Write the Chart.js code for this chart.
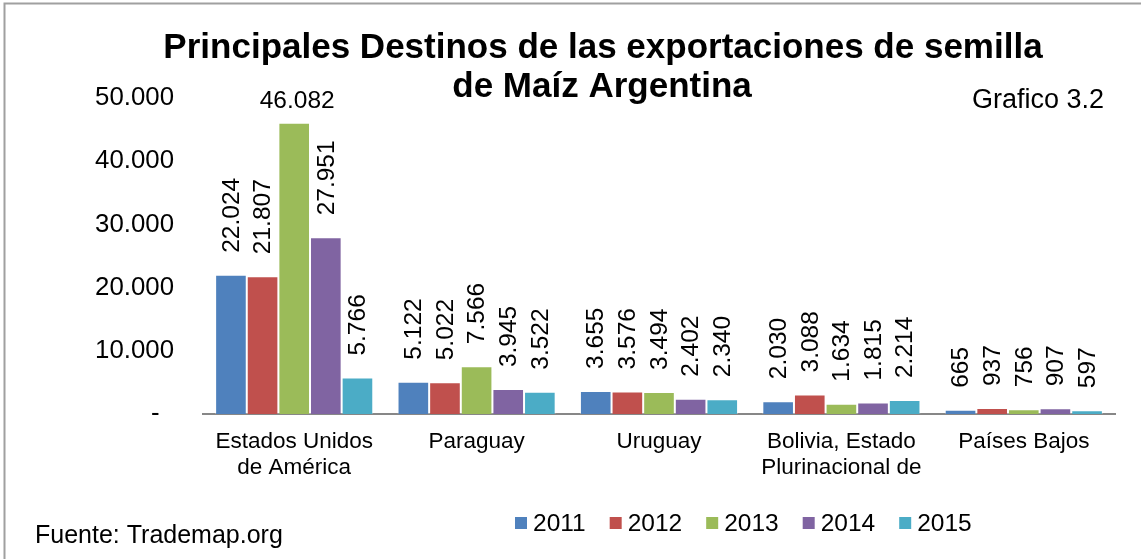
<!DOCTYPE html>
<html>
<head>
<meta charset="utf-8">
<script src="https://cdn.jsdelivr.net/npm/chart.js@4/dist/chart.umd.min.js"></script>
<style>
  html, body { margin: 0; padding: 0; background: #ffffff; }
  #wrap { position: relative; width: 1141px; height: 559px; }
</style>
</head>
<body>
<div id="wrap"><canvas id="c" width="1141" height="559"></canvas></div>
<script>
const categories = [
  ["Estados Unidos", "de América"],
  "Paraguay",
  "Uruguay",
  ["Bolivia, Estado", "Plurinacional de"],
  "Países Bajos"
];
const years = ["2011", "2012", "2013", "2014", "2015"];
const v2011 = [22024, 5122, 3655, 2030, 665];
const v2012 = [21807, 5022, 3576, 3088, 937];
const v2013 = [46082, 7566, 3494, 1634, 756];
const v2014 = [27951, 3945, 2402, 1815, 907];
const v2015 = [5766, 3522, 2340, 2214, 597];
const colors = ["#4F81BD", "#C0504D", "#9BBB59", "#8064A2", "#4BACC6"];
const yTicks = [0, 10000, 20000, 30000, 40000, 50000];
const titleLines = ["Principales Destinos de las exportaciones de semilla", "de Maíz Argentina"];
const noteText = "Grafico 3.2";
const sourceText = "Fuente: Trademap.org";

const FONT = "'Liberation Sans', Arial, sans-serif";

function fmt(v) {
  const s = Math.round(v).toString();
  return s.replace(/\B(?=(\d{3})+(?!\d))/g, ".");
}

const series = [v2011, v2012, v2013, v2014, v2015];

const decorPlugin = {
  id: 'decor',
  beforeDraw(chart) {
    const ctx = chart.ctx;
    ctx.save();
    ctx.strokeStyle = '#a0a0a0';
    ctx.lineWidth = 2;
    ctx.beginPath();
    ctx.moveTo(4.5, 560);
    ctx.lineTo(4.5, 3.5);
    ctx.lineTo(1142, 3.5);
    ctx.stroke();
    ctx.restore();
  },
  afterDraw(chart) {
    const ctx = chart.ctx;
    ctx.save();
    ctx.fillStyle = '#000';
    // Title
    ctx.font = "bold 35px " + FONT;
    ctx.textAlign = 'center';
    ctx.textBaseline = 'alphabetic';
    ctx.fillText(titleLines[0], 603, 58);
    ctx.fillText(titleLines[1], 602, 97);
    // Note
    ctx.font = "27px " + FONT;
    ctx.textAlign = 'right';
    ctx.fillText(noteText, 1104, 108);
    // Source
    ctx.font = "25px " + FONT;
    ctx.textAlign = 'left';
    ctx.fillText(sourceText, 35, 543);
    // Legend
    ctx.font = "24.5px " + FONT;
    ctx.textBaseline = 'middle';
    let x = 515;
    const yMid = 523;
    chart.data.datasets.forEach((ds) => {
      ctx.fillStyle = ds.backgroundColor;
      ctx.fillRect(x, yMid - 6, 12, 12);
      ctx.fillStyle = '#000';
      ctx.fillText(ds.label, x + 18, yMid + 1);
      x += 18 + ctx.measureText(ds.label).width + 24;
    });
    // Data labels
    ctx.font = "24.5px " + FONT;
    const top = chart.chartArea.top;
    chart.data.datasets.forEach((ds, di) => {
      const meta = chart.getDatasetMeta(di);
      meta.data.forEach((bar, i) => {
        const txt = fmt(ds.data[i]);
        const w = ctx.measureText(txt).width;
        ctx.fillStyle = '#000';
        if (bar.y - 22 - w < top - 20) {
          ctx.textAlign = 'center';
          ctx.textBaseline = 'alphabetic';
          ctx.fillText(txt, bar.x + 3, bar.y - 15);
        } else {
          ctx.save();
          ctx.translate(bar.x + 1, bar.y - 22);
          ctx.rotate(-Math.PI / 2);
          ctx.textAlign = 'left';
          ctx.textBaseline = 'middle';
          ctx.fillText(txt, 0, 0);
          ctx.restore();
        }
      });
    });
    ctx.restore();
  }
};

new Chart(document.getElementById('c'), {
  type: 'bar',
  data: {
    labels: categories,
    datasets: years.map((y, k) => ({
      label: y,
      data: series[k],
      backgroundColor: colors[k],
      borderColor: 'rgba(255,255,255,0.35)',
      borderWidth: 1,
      categoryPercentage: 0.867,
      barPercentage: 1.0
    }))
  },
  options: {
    responsive: false,
    animation: false,
    devicePixelRatio: 1,
    layout: { padding: { left: 0, right: 26, top: 98, bottom: 0 } },
    plugins: {
      legend: { display: false },
      title: { display: false },
      tooltip: { enabled: false }
    },
    scales: {
      x: {
        grid: { display: false, drawTicks: false },
        border: { display: true, color: '#878787', width: 2 },
        ticks: {
          color: '#000',
          font: { family: FONT, size: 22.5, lineHeight: 1.16 },
          padding: 15,
          maxRotation: 0,
          autoSkip: false
        },
        afterFit(scale) { scale.height = 145; }
      },
      y: {
        min: 0,
        max: 50000,
        grid: { display: false, drawTicks: false },
        border: { display: false },
        afterBuildTicks(scale) { scale.ticks = yTicks.map(v => ({ value: v })); },
        ticks: {
          color: '#000',
          font: { family: FONT, size: 25.8 },
          padding: 29,
          callback: (v) => v === 0 ? '-  ' : fmt(v)
        },
        afterFit(scale) { scale.width = 203; }
      }
    }
  },
  plugins: [decorPlugin]
});
</script>
</body>
</html>
